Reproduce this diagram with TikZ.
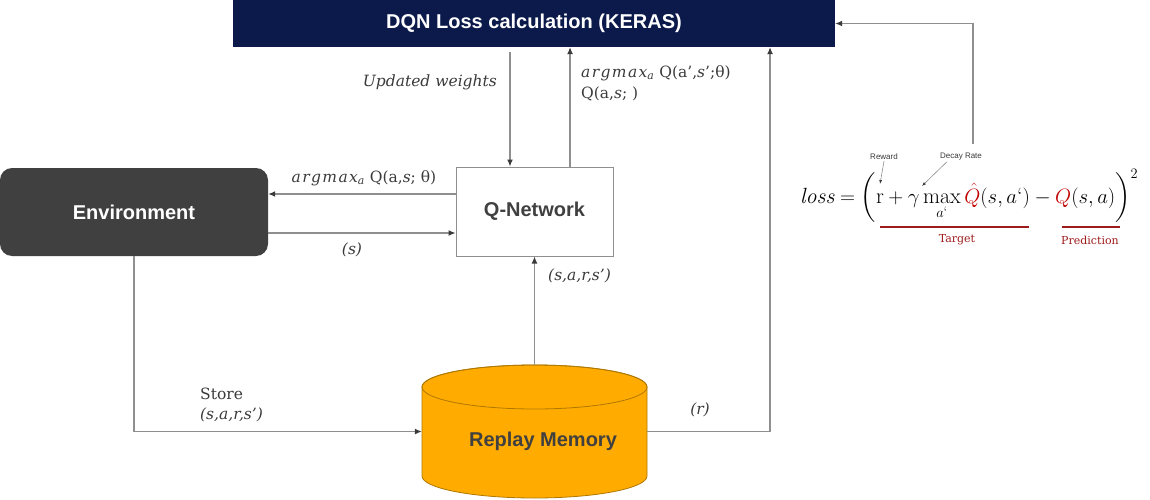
\documentclass[tikz,border=0pt]{standalone}
\usepackage{amsmath}
\usepackage{fontspec}
\setsansfont{Liberation Sans}
\newfontfamily\lblfont{DejaVu Serif}
\newcommand{\amx}{{\itshape\addfontfeatures{LetterSpace=9}argmax}\textsubscript{\itshape a}}
\usetikzlibrary{arrows.meta,calc}
\definecolor{navy}{HTML}{0B1A4A}
\definecolor{envgray}{HTML}{404040}
\definecolor{memorange}{HTML}{FFAB00}
\definecolor{memedge}{HTML}{B07800}
\definecolor{linegray}{HTML}{8F8F8F}
\definecolor{qred}{HTML}{C00000}
\definecolor{darkred}{HTML}{9E1B1B}
\definecolor{txtgray}{HTML}{3A3A3A}
\begin{document}
\begin{tikzpicture}[x=1pt,y=-1pt,
  line/.style={draw=linegray,line width=1.2pt},
  conn/.style={line,-{Latex[length=7pt,width=6pt,color=txtgray]}},
  fconn/.style={draw=linegray,line width=0.6pt,-{Latex[length=4pt,width=3pt,color=txtgray]}},
  bigsans/.style={font=\sffamily\bfseries\fontsize{20}{24}\selectfont},
  lbl/.style={font=\lblfont\fontsize{15.5}{18}\selectfont,text=txtgray,inner sep=0pt},
  tiny/.style={font=\sffamily\fontsize{8}{9}\selectfont,text=txtgray,inner sep=1pt},
  redlbl/.style={font=\lblfont\fontsize{11}{13}\selectfont,text=darkred,inner sep=0pt},
  redline/.style={draw=darkred,line width=1.5pt},
]
\useasboundingbox (0,0) rectangle (1150,500);

% main boxes
\node[fill=navy,minimum width=602pt,minimum height=47pt,inner sep=0pt,bigsans,text=white] (dqn) at (534,23.5) {DQN Loss calculation (KERAS)};
\node[fill=envgray,rounded corners=12pt,minimum width=268pt,minimum height=88pt,inner sep=0pt,bigsans,text=white] (env) at (134,212) {Environment};
\node[draw=linegray,line width=1pt,fill=white,minimum width=157pt,minimum height=89pt,inner sep=0pt,bigsans,text=envgray] (qnet) at (534.5,211.5) {Q-Network};

% replay memory cylinder
\filldraw[fill=memorange,draw=memedge,line width=0.8pt]
  (422,387) -- (422,476) arc[start angle=180,end angle=360,x radius=112.5pt,y radius=22pt]
  -- (647,387) arc[start angle=0,end angle=180,x radius=112.5pt,y radius=22pt] -- cycle;
\draw[draw=memedge,line width=0.8pt] (534.5,387) ellipse[x radius=112.5pt,y radius=22pt];
\node[minimum width=225pt,minimum height=133pt,inner sep=0pt] (mem) at (534.5,431.5) {};
\node[bigsans,text=envgray,inner sep=0pt] (memlbl) at (543,441) {Replay Memory};

% helper coordinates
\coordinate (uw) at (510,0);
\coordinate (qup) at (570,0);
\coordinate (rcol) at (770,0);
\coordinate (a1) at (0,194);
\coordinate (a2) at (0,233);
\coordinate (fb) at (973,144);

% connectors
\draw[conn,shorten <=5pt] (dqn.south -| uw) -- (qnet.north -| uw);
\draw[conn] (qnet.north -| qup) -- (dqn.south -| qup);
\draw[conn] (qnet.west |- a1) -- (env.east |- a1);
\draw[conn] (env.east |- a2) -- (qnet.west |- a2);
\draw[conn] (env.south) |- (mem.west);
\draw[conn] (mem.north) -- (qnet.south);
\draw[conn] (mem.east) -| (dqn.south -| rcol);
\draw[conn] (fb) |- (dqn.east);

% labels
\node[lbl,anchor=east] (uwl) at (497,82) {\itshape Updated weights};
\node[lbl,anchor=west] (am1) at (581,73) {\amx\ Q(a’,\textit{s}’;θ)};
\node[lbl,anchor=west] (am2) at (581,94) {Q(a,\textit{s}; )};
\node[lbl] (am3) at (364,178) {\amx\ Q(a,\textit{s}; θ)};
\node[lbl] (sl) at (352,250) {\itshape (s)};
\node[lbl,anchor=west] (sars) at (548,276) {\itshape (s,a,r,s’)};
\node[lbl,anchor=west] (store) at (200,394) {Store};
\node[lbl,anchor=west] (sars2) at (200,415) {\itshape (s,a,r,s’)};
\node[lbl] (rl) at (700,410) {\itshape (r)};

% loss formula
\node[anchor=base west,inner sep=0pt,text=black] (loss) at (800,203)
  {\fontsize{22}{26}\selectfont $\mathit{loss}=\smash{\biggl(}\mathrm{r}+\gamma\max\limits_{a\text{`}}{\color{qred}\hat{Q}}(s,a\text{`})-{\color{qred}Q}(s,a)\smash{\biggr)^{2}}$};
\node[tiny] (rew) at (884,157) {Reward};
\node[tiny] (decay) at (961,157) {Decay Rate};
\coordinate (rtip) at (880,184);
\coordinate (gtip) at (922,186);
\draw[fconn] (rew.south) -- (rtip);
\draw[fconn] (decay.south west) ++(8pt,0pt) -- (gtip);
\draw[redline] (880,227) -- (1029,227);
\draw[redline] (1062,227) -- (1120,227);
\node[redlbl] (tgt) at (957,240) {Target};
\node[redlbl] (pred) at (1090,240) {Prediction};
\end{tikzpicture}
\end{document}
